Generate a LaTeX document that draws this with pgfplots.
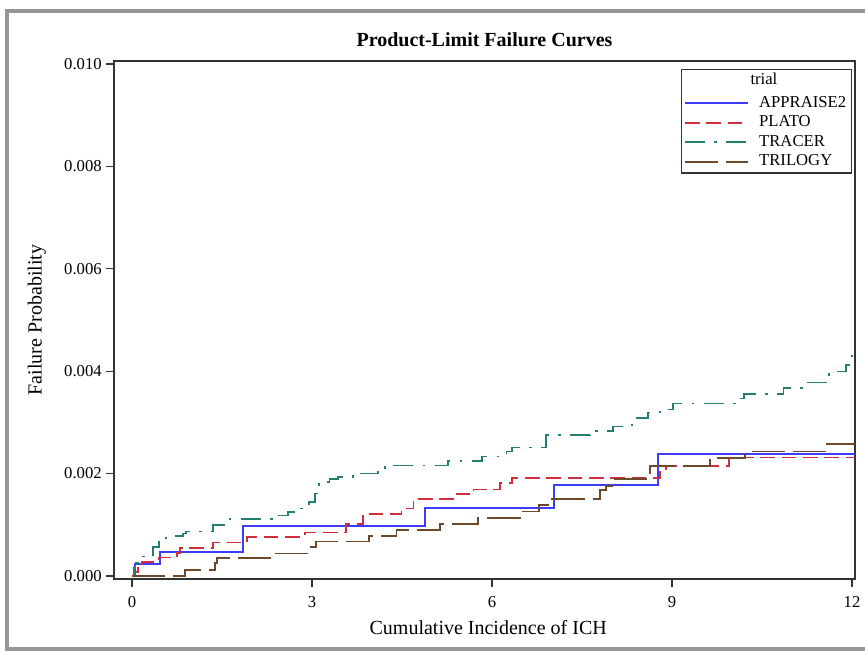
\documentclass[border=0pt]{standalone}
\usepackage{fontspec}
\setmainfont{Liberation Serif}
\usepackage{pgfplots}
\pgfplotsset{compat=1.18}
\definecolor{cApp}{RGB}{60,60,250}
\definecolor{cPla}{RGB}{210,45,60}
\definecolor{cTra}{RGB}{35,128,112}
\definecolor{cTri}{RGB}{110,72,42}
\definecolor{frameg}{RGB}{150,150,150}
\begin{document}
\begin{tikzpicture}
\useasboundingbox (0,0) rectangle (648.75pt,489pt);
\draw[frameg, line width=2.5pt] (660pt,480.75pt) -- (5.25pt,480.75pt) -- (5.25pt,2.25pt) -- (660pt,2.25pt);
\begin{axis}[
  at={(85.5pt,54.75pt)}, anchor=south west,
  scale only axis, width=555.75pt, height=388.5pt,
  xmin=-0.3, xmax=12.05, ymin=-0.00006, ymax=0.01006,
  /pgf/number format/assume math mode=true,
  axis line style={black!80, line width=1pt},
  tick style={black!80, line width=1pt},
  major tick length=6pt, tick align=outside, tick pos=left,
  xtick={0,3,6,9,12},
  ytick={0,0.002,0.004,0.006,0.008,0.010},
  scaled y ticks=false,
  xticklabel style={font=\fontsize{12.5}{15}\selectfont, anchor=base, inner sep=0pt, yshift=-15.75pt},
  yticklabel style={font=\fontsize{12.5}{15}\selectfont, anchor=east, inner sep=0pt, xshift=-3pt,
     /pgf/number format/fixed, /pgf/number format/fixed zerofill, /pgf/number format/precision=3},
  title={Product-Limit Failure Curves},
  title style={font=\fontsize{15}{18}\selectfont\bfseries, at={(axis description cs:0.5,1.013)}, anchor=base, yshift=0pt},
  xlabel={Cumulative Incidence of ICH},
  xlabel style={font=\fontsize{15}{18}\selectfont, at={(axis description cs:0.505,-0.1062)}, anchor=base},
  ylabel={Failure Probability},
  ylabel style={font=\fontsize{15}{18}\selectfont, at={(axis description cs:-0.0978,0.5)}, anchor=base},
  legend style={at={(0.996,0.984)}, anchor=north east, draw=black!80, line width=0.9pt, fill=white,
     inner xsep=2pt, inner ysep=1pt, font=\fontsize{12.5}{15}\selectfont,
     nodes={text height=8.4pt, text depth=2.4pt, inner sep=1.9pt}, row sep=0pt,
     /tikz/every odd column/.append style={column sep=6pt}},
  legend cell align=left,
  legend image code/.code={\draw[#1, line width=1.5pt] (0pt,0pt) -- (47pt,0pt);},
]
\addlegendimage{empty legend}
\addlegendentry[text depth=4.7pt]{\hspace*{-6.5pt}trial}

\addplot[const plot, cApp, line width=1.3pt] coordinates {
(0,0) (0.03,0.00012) (0.05,0.00024) (0.47,0.00047) (1.85,0.00098) (4.88,0.00133) (7.03,0.00178) (8.77,0.00238) (12.05,0.00238)};
\addlegendentry{APPRAISE2}

\addplot[const plot, cPla, line width=1.2pt, dash pattern=on 11pt off 5pt] coordinates {
(0,0) (0.05,0.00008) (0.1,0.00015) (0.17,0.00027) (0.45,0.00036) (0.75,0.00045) (0.8,0.00055) (1.35,0.00065) (1.92,0.00076) (2.88,0.00085) (3.57,0.00102) (3.85,0.00121) (4.49,0.00132) (4.69,0.0015) (5.41,0.0016) (5.69,0.00169) (6.13,0.00181) (6.33,0.00191) (8.8,0.00204) (8.9,0.00215) (9.95,0.00231) (12.05,0.00231)};
\addlegendentry{PLATO}

\addplot[const plot, cTra, line width=1.2pt, dash pattern=on 15pt off 7pt on 2pt off 7pt] coordinates {
(0,0) (0.03,0.00015) (0.06,0.00025) (0.18,0.00038) (0.35,0.00057) (0.45,0.00066) (0.57,0.00078) (0.85,0.00083) (0.9,0.00087) (1.35,0.001) (1.55,0.00111) (2.38,0.00118) (2.6,0.00125) (2.77,0.00132) (2.95,0.00145) (3.05,0.00161) (3.08,0.00171) (3.12,0.00184) (3.29,0.00189) (3.43,0.00193) (3.68,0.002) (4.1,0.00207) (4.22,0.00216) (5.27,0.00225) (5.83,0.00233) (6.24,0.00243) (6.33,0.00251) (6.9,0.00275) (7.63,0.00283) (8.02,0.00292) (8.33,0.00308) (8.6,0.00319) (8.8,0.00325) (9.02,0.00337) (10.08,0.00347) (10.2,0.00355) (10.86,0.00367) (11.2,0.00378) (11.62,0.00399) (11.9,0.00412) (11.95,0.00421) (12.0,0.00433) (12.05,0.00433)};
\addlegendentry{TRACER}

\addplot[const plot, cTri, line width=1.2pt, dash pattern=on 25pt off 6pt] coordinates {
(0,0) (0.88,0.00012) (1.38,0.00025) (1.42,0.00035) (2.3,0.00044) (2.98,0.00057) (3.07,0.00067) (3.95,0.00078) (4.41,0.0009) (5.13,0.00101) (5.77,0.00113) (6.52,0.00126) (6.78,0.00139) (6.93,0.0015) (7.8,0.00168) (7.9,0.00176) (8.02,0.00189) (8.63,0.00215) (9.63,0.0023) (10.22,0.00243) (11.58,0.00258) (12.05,0.00258)};
\addlegendentry{TRILOGY}
\end{axis}
\end{tikzpicture}
\end{document}
